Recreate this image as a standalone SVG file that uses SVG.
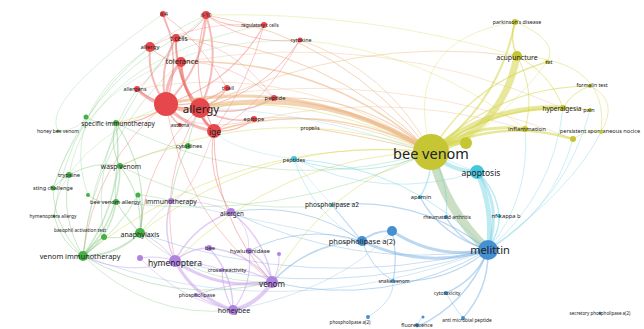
<svg xmlns="http://www.w3.org/2000/svg" width="644" height="329" viewBox="0 0 644 329">
<style>
.e path{fill:none;stroke-linecap:round}
.r{stroke:#ea6a66;stroke-opacity:.45}
.o{stroke:#eab07a;stroke-opacity:.55}
.g{stroke:#79c479;stroke-opacity:.4}
.p{stroke:#c49be8;stroke-opacity:.5}
.c{stroke:#6fd0e2;stroke-opacity:.45}
.b{stroke:#6aa8de;stroke-opacity:.45}
.y{stroke:#d6d64a;stroke-opacity:.55}
.s{stroke:#a9c99c;stroke-opacity:.6}
text{font-family:"Noto Sans","DejaVu Sans",sans-serif;fill:#222;text-anchor:middle;dominant-baseline:central}
.nr{fill:#e5474b}.ng{fill:#46b046}.np{fill:#b083e2}.nc{fill:#46c6de}.nb{fill:#4590d2}.ny{fill:#c6c634}
</style>
<g class="e" id="edges">
<!-- red -->
<path class="r" stroke-width="4" d="M166,104 Q182,113 200,108"/>
<path class="r" stroke-width="3" d="M166,104 Q185,127 214,131"/>
<path class="r" stroke-width="3" d="M200,108 Q202,122 214,131"/>
<path class="r" stroke-width="3" d="M181,62 Q165,80 166,104"/>
<path class="r" stroke-width="3" d="M181,62 Q181,89 200,108"/>
<path class="r" stroke-width="2" d="M176,38 Q158,69 166,104"/>
<path class="r" stroke-width="2" d="M176,38 Q174,78 200,108"/>
<path class="r" stroke-width="2" d="M166,104 Q204,68 206,15"/>
<path class="r" stroke-width="2" d="M200,108 Q222,63 206,15"/>
<path class="r" stroke-width="1.5" d="M166,104 Q182,58 163,14"/>
<path class="r" stroke-width="1" d="M163,14 Q165,29 176,38"/>
<path class="r" stroke-width="1" d="M176,38 Q196,32 206,15"/>
<path class="r" stroke-width="1.2" d="M166,104 Q231,84 264,25"/>
<path class="r" stroke-width="1" d="M206,15 Q233,32 264,25"/>
<path class="r" stroke-width="1" d="M200,108 Q264,94 300,40"/>
<path class="r" stroke-width="0.8" d="M206,15 Q248,46 300,40"/>
<path class="r" stroke-width="2" d="M150,47 Q147,79 166,104"/>
<path class="r" stroke-width="1" d="M150,47 Q163,61 181,62"/>
<path class="r" stroke-width="3" d="M137,89 Q149,102 166,104"/>
<path class="r" stroke-width="1.5" d="M137,89 Q165,111 200,108"/>
<path class="r" stroke-width="1.5" d="M166,104 Q200,108 227,88"/>
<path class="r" stroke-width="1.5" d="M200,108 Q218,103 227,88"/>
<path class="r" stroke-width="1.5" d="M200,108 Q239,118 274,98"/>
<path class="r" stroke-width="1.5" d="M214,131 Q236,133 254,119"/>
<path class="r" stroke-width="1.5" d="M200,108 Q225,124 254,119"/>
<path class="r" stroke-width="1.5" d="M166,104 Q169,117 180,125"/>
<path class="r" stroke-width="2" d="M181,62 Q184,103 214,131"/>
<path class="r" stroke-width="1.5" d="M176,38 Q176,92 214,131"/>
<path class="r" stroke-width="1.2" d="M206,15 Q187,75 214,131"/>
<path class="r" stroke-width="0.8" d="M166,104 Q183,214 272,282"/>
<path class="r" stroke-width="0.8" d="M200,108 Q157,180 175,261"/>
<path class="r" stroke-width="1" d="M214,131 Q213,218 272,282"/>
<path class="r" stroke-width="0.8" d="M200,108 Q145,159 140,233"/>
<path class="r" stroke-width="1" d="M214,131 Q206,175 231,212"/>
<path class="r" stroke-width="0.8" d="M166,104 Q94,163 83,256"/>
<path class="r" stroke-width="1.2" d="M116,123 Q145,124 166,104"/>
<path class="r" stroke-width="0.6" d="M137,89 Q160,70 176,38"/>
<path class="r" stroke-width="0.6" d="M181,62 Q230,60 274,98"/>
<path class="r" stroke-width="0.8" d="M163,14 Q200,40 227,88"/>
<path class="r" stroke-width="0.8" d="M264,25 Q250,80 214,131"/>
<path class="r" stroke-width="0.8" d="M300,40 Q260,110 214,131"/>
<path class="r" stroke-width="0.6" d="M150,47 Q200,20 264,25"/>
<path class="r" stroke-width="0.6" d="M137,89 Q190,140 254,119"/>
<path class="r" stroke-width="0.6" d="M176,38 Q230,40 274,98"/>
<path class="r" stroke-width="0.6" d="M214,131 Q190,200 171,201"/>
<!-- orange -->
<path class="o" stroke-width="5" d="M431,152 Q324,84 200,108"/>
<path class="o" stroke-width="3" d="M431,152 Q308,75 166,104"/>
<path class="o" stroke-width="1.5" d="M431,152 Q324,57 181,62"/>
<path class="o" stroke-width="1.5" d="M431,152 Q327,98 214,131"/>
<path class="o" stroke-width="1" d="M431,152 Q346,38 206,15"/>
<path class="o" stroke-width="1" d="M431,152 Q326,44 176,38"/>
<path class="o" stroke-width="1.2" d="M431,152 Q363,94 274,98"/>
<path class="o" stroke-width="0.8" d="M431,152 Q388,70 300,40"/>
<path class="o" stroke-width="1" d="M431,152 Q360,135 310,128"/>
<path class="o" stroke-width="0.8" d="M517,56 Q351,34 200,108"/>
<path class="o" stroke-width="0.6" d="M563,108 Q379,28 181,62"/>
<path class="o" stroke-width="0.6" d="M525,129 Q369,83 214,131"/>
<path class="o" stroke-width="0.6" d="M573,139 Q375,60 166,104"/>
<path class="o" stroke-width="0.8" d="M431,152 Q330,110 254,119"/>
<path class="o" stroke-width="0.6" d="M431,152 Q300,60 137,89"/>
<!-- yellow -->
<path class="y" stroke-width="7" d="M431,152 Q503,130 517,56"/>
<path class="y" stroke-width="2" d="M431,152 Q499,104 515,22"/>
<path class="y" stroke-width="1.5" d="M515,22 Q509,39 517,56"/>
<path class="y" stroke-width="5" d="M563,108 Q488,104 431,152"/>
<path class="y" stroke-width="3" d="M525,129 Q473,122 431,152"/>
<path class="y" stroke-width="2.5" d="M573,139 Q499,117 431,152"/>
<path class="y" stroke-width="1.5" d="M547,62 Q471,84 431,152"/>
<path class="y" stroke-width="1.2" d="M590,86 Q497,87 431,152"/>
<path class="y" stroke-width="1.5" d="M590,110 Q502,99 431,152"/>
<path class="y" stroke-width="1" d="M590,86 Q572,92 563,108"/>
<path class="y" stroke-width="1" d="M563,108 Q550,73 517,56"/>
<path class="y" stroke-width="1" d="M525,129 Q536,91 517,56"/>
<path class="y" stroke-width="0.8" d="M515,22 Q560,40 547,62"/>
<path class="y" stroke-width="0.8" d="M573,139 Q590,128 601,132"/>
<path class="y" stroke-width="0.8" d="M601,132 Q620,100 590,86"/>
<path class="y" stroke-width="0.8" d="M517,56 Q610,60 601,132"/>
<path class="y" stroke-width="5" d="M431,152 Q450,140 466,143"/>
<path class="y" stroke-width="0.8" d="M431,152 Q269,134 140,233"/>
<path class="y" stroke-width="0.8" d="M431,152 Q236,134 83,256"/>
<path class="y" stroke-width="0.8" d="M431,152 Q325,185 272,282"/>
<path class="y" stroke-width="0.8" d="M431,152 Q281,155 175,261"/>
<path class="y" stroke-width="0.8" d="M431,152 Q273,97 120,166"/>
<path class="y" stroke-width="0.8" d="M431,152 Q279,74 116,123"/>
<path class="y" stroke-width="0.6" d="M517,56 Q368,11 206,15"/>
<path class="y" stroke-width="0.6" d="M525,129 Q426,51 300,40"/>
<path class="y" stroke-width="0.6" d="M515,22 Q400,40 431,152"/>
<path class="y" stroke-width="0.6" d="M466,143 Q520,100 547,62"/>
<!-- cyan / blue -->
<path class="s" stroke-width="9" d="M431,152 Q445,210 488,250"/>
<path class="c" stroke-width="4" d="M431,152 Q450,171 477,172"/>
<path class="c" stroke-width="5" d="M488,250 Q494,209 477,172"/>
<path class="c" stroke-width="3" d="M488,250 Q503,204 477,172"/>
<path class="c" stroke-width="1.5" d="M499,216 Q497,190 477,172"/>
<path class="c" stroke-width="1.5" d="M488,250 Q500,230 499,216"/>
<path class="b" stroke-width="1.5" d="M446,217 Q460,242 488,250"/>
<path class="b" stroke-width="1.5" d="M420,197 Q440,235 488,250"/>
<path class="b" stroke-width="3" d="M362,241 Q423,270 488,250"/>
<path class="b" stroke-width="3" d="M392,231 Q436,260 488,250"/>
<path class="b" stroke-width="2" d="M362,241 Q375,230 392,231"/>
<path class="b" stroke-width="1.5" d="M446,293 Q476,280 488,250"/>
<path class="b" stroke-width="1.5" d="M463,318 Q489,289 488,250"/>
<path class="b" stroke-width="1.5" d="M417,327 Q468,303 488,250"/>
<path class="b" stroke-width="1.2" d="M393,281 Q447,284 488,250"/>
<path class="c" stroke-width="0.8" d="M488,250 Q553,212 573,139"/>
<path class="c" stroke-width="0.8" d="M488,250 Q531,197 525,129"/>
<path class="c" stroke-width="0.8" d="M488,250 Q554,194 563,108"/>
<path class="c" stroke-width="0.8" d="M488,250 Q567,200 590,110"/>
<path class="c" stroke-width="0.8" d="M488,250 Q572,190 601,132"/>
<path class="c" stroke-width="1" d="M488,250 Q409,166 294,159"/>
<path class="b" stroke-width="1.2" d="M488,250 Q419,196 332,205"/>
<path class="b" stroke-width="1" d="M272,282 Q386,309 488,250"/>
<path class="b" stroke-width="1.5" d="M362,241 Q309,243 272,282"/>
<path class="b" stroke-width="1" d="M362,241 Q370,267 393,281"/>
<path class="b" stroke-width="1.2" d="M392,231 Q398,256 393,281"/>
<path class="b" stroke-width="1.2" d="M362,241 Q340,215 332,205"/>
<path class="b" stroke-width="1" d="M362,241 Q303,223 249,251"/>
<path class="b" stroke-width="1" d="M362,241 Q302,200 231,212"/>
<path class="c" stroke-width="1" d="M294,159 Q364,183 431,152"/>
<path class="c" stroke-width="1.5" d="M420,197 Q432,178 431,152"/>
<path class="c" stroke-width="1.2" d="M446,217 Q450,185 431,152"/>
<path class="b" stroke-width="0.8" d="M446,293 Q456,310 463,318"/>
<path class="b" stroke-width="0.8" d="M417,327 Q420,318 423,317"/>
<path class="b" stroke-width="0.8" d="M368,317 Q395,300 393,281"/>
<path class="b" stroke-width="0.8" d="M140,233 Q311,294 488,250"/>
<path class="b" stroke-width="0.8" d="M175,261 Q333,302 488,250"/>
<path class="b" stroke-width="0.8" d="M231,212 Q354,270 488,250"/>
<path class="b" stroke-width="0.6" d="M83,256 Q280,330 488,250"/>
<path class="c" stroke-width="0.8" d="M294,159 Q312,214 362,241"/>
<path class="c" stroke-width="0.8" d="M294,159 Q383,202 477,172"/>
<path class="c" stroke-width="0.6" d="M294,159 Q230,150 214,131"/>
<path class="c" stroke-width="0.6" d="M477,172 Q330,110 200,108"/>
<path class="c" stroke-width="0.6" d="M332,205 Q300,170 294,159"/>
<path class="b" stroke-width="0.6" d="M392,231 Q340,290 233,310"/>
<path class="b" stroke-width="0.6" d="M362,241 Q250,220 171,201"/>
<!-- purple -->
<path class="p" stroke-width="4" d="M233,310 Q258,304 272,282"/>
<path class="p" stroke-width="3" d="M175,261 Q194,297 233,310"/>
<path class="p" stroke-width="3" d="M175,261 Q219,291 272,282"/>
<path class="p" stroke-width="1.5" d="M175,261 Q190,248 209,248"/>
<path class="p" stroke-width="1.2" d="M175,261 Q200,262 222,270"/>
<path class="p" stroke-width="1.5" d="M272,282 Q267,262 249,251"/>
<path class="p" stroke-width="1.5" d="M272,282 Q266,239 231,212"/>
<path class="p" stroke-width="1.5" d="M272,282 Q248,252 209,248"/>
<path class="p" stroke-width="1.2" d="M272,282 Q245,266 222,270"/>
<path class="p" stroke-width="1" d="M272,282 Q230,282 196,295"/>
<path class="p" stroke-width="1.2" d="M233,310 Q210,304 196,295"/>
<path class="p" stroke-width="1.5" d="M233,310 Q233,274 209,248"/>
<path class="p" stroke-width="1.2" d="M233,310 Q253,284 249,251"/>
<path class="p" stroke-width="1.2" d="M233,310 Q222,290 222,270"/>
<path class="p" stroke-width="1.5" d="M171,201 Q161,232 175,261"/>
<path class="p" stroke-width="1.5" d="M231,212 Q193,226 175,261"/>
<path class="p" stroke-width="1" d="M140,258 Q158,255 175,261"/>
<path class="p" stroke-width="1" d="M279,254 Q280,270 272,282"/>
<path class="p" stroke-width="1" d="M83,256 Q128,277 175,261"/>
<path class="p" stroke-width="1" d="M140,233 Q160,240 175,261"/>
<path class="p" stroke-width="0.8" d="M171,201 Q210,200 231,212"/>
<path class="p" stroke-width="0.8" d="M231,212 Q250,225 249,251"/>
<path class="p" stroke-width="0.8" d="M140,258 Q180,300 233,310"/>
<!-- green -->
<path class="g" stroke-width="2" d="M83,256 Q116,256 140,233"/>
<path class="g" stroke-width="1.2" d="M83,256 Q96,240 104,237"/>
<path class="g" stroke-width="1.5" d="M83,256 Q111,236 116,202"/>
<path class="g" stroke-width="1.5" d="M83,256 Q120,218 120,166"/>
<path class="g" stroke-width="1.5" d="M83,256 Q126,196 116,123"/>
<path class="g" stroke-width="1" d="M53,188 Q54,228 83,256"/>
<path class="g" stroke-width="1" d="M69,175 Q60,218 83,256"/>
<path class="g" stroke-width="1" d="M54,216 Q62,245 83,256"/>
<path class="g" stroke-width="1" d="M83,256 Q120,230 138,195"/>
<path class="g" stroke-width="1.2" d="M140,233 Q143,196 120,166"/>
<path class="g" stroke-width="1.2" d="M140,233 Q128,220 116,202"/>
<path class="g" stroke-width="1.2" d="M140,233 Q145,210 138,195"/>
<path class="g" stroke-width="1.2" d="M140,233 Q150,173 116,123"/>
<path class="g" stroke-width="1.2" d="M116,123 Q109,145 120,166"/>
<path class="g" stroke-width="1" d="M86,117 Q100,126 116,123"/>
<path class="g" stroke-width="1" d="M120,166 Q113,183 116,202"/>
<path class="g" stroke-width="1" d="M69,175 Q95,160 120,166"/>
<path class="g" stroke-width="1" d="M53,188 Q60,180 69,175"/>
<path class="g" stroke-width="1" d="M88,195 Q100,205 116,202"/>
<path class="g" stroke-width="1" d="M104,237 Q120,240 140,233"/>
<path class="g" stroke-width="0.8" d="M150,47 Q68,112 54,216"/>
<path class="g" stroke-width="0.8" d="M181,62 Q93,139 83,256"/>
<path class="g" stroke-width="0.8" d="M206,15 Q96,111 83,256"/>
<path class="g" stroke-width="0.8" d="M176,38 Q85,88 53,188"/>
<path class="g" stroke-width="0.8" d="M137,89 Q91,156 104,237"/>
<path class="g" stroke-width="0.7" d="M163,14 Q40,100 58,131"/>
<path class="g" stroke-width="0.7" d="M264,25 Q90,60 69,175"/>
<path class="g" stroke-width="0.7" d="M206,15 Q50,90 88,195"/>
<path class="g" stroke-width="0.6" d="M300,40 Q100,40 53,188"/>
<path class="g" stroke-width="0.6" d="M166,104 Q60,150 54,216"/>
<path class="g" stroke-width="1" d="M83,256 Q173,307 272,282"/>
<path class="g" stroke-width="0.8" d="M140,233 Q196,284 272,282"/>
<path class="g" stroke-width="0.8" d="M83,256 Q150,320 233,310"/>
<path class="g" stroke-width="0.8" d="M116,123 Q268,200 431,152"/>
<path class="g" stroke-width="0.8" d="M120,166 Q220,217 332,205"/>
<path class="g" stroke-width="0.8" d="M116,202 Q281,224 431,152"/>
<path class="g" stroke-width="1" d="M188,146 Q175,170 171,201"/>
<path class="g" stroke-width="1" d="M188,146 Q190,130 200,108"/>
<path class="g" stroke-width="0.8" d="M188,146 Q150,150 120,166"/>
<path class="g" stroke-width="0.8" d="M171,201 Q150,195 138,195"/>
<path class="g" stroke-width="0.8" d="M171,201 Q150,220 140,233"/>
<path class="g" stroke-width="0.6" d="M58,131 Q80,130 86,117"/>
</g>
<g id="n-allergy-a"><circle class="nr" cx="166" cy="104" r="12"/></g>
<g id="n-allergy"><circle class="nr" cx="200" cy="108" r="10"/><text x="201" y="108" font-size="11.5">allergy</text></g>
<g id="n-ige"><circle class="nr" cx="214" cy="131" r="7"/><text x="215" y="131" font-size="8.5">ige</text></g>
<g id="n-tolerance"><circle class="nr" cx="181" cy="62" r="5"/><text x="182" y="61" font-size="7.5">tolerance</text></g>
<g id="n-tcells"><circle class="nr" cx="176" cy="38" r="4"/><text x="179" y="38" font-size="6.5">t cells</text></g>
<g id="n-il4"><circle class="nr" cx="163" cy="14" r="3"/><text x="164" y="14" font-size="5.5">il-4</text></g>
<g id="n-il10"><circle class="nr" cx="206" cy="15" r="4"/><text x="206" y="15" font-size="5.5">il-10</text></g>
<g id="n-regt"><circle class="nr" cx="264" cy="25" r="3"/><text x="260" y="25" font-size="4.8">regulatory t cells</text></g>
<g id="n-cytokine"><circle class="nr" cx="300" cy="40" r="2.5"/><text x="301" y="40" font-size="5.3">cytokine</text></g>
<g id="n-allergy-s"><circle class="nr" cx="150" cy="47" r="5"/><text x="150" y="47" font-size="6">allergy</text></g>
<g id="n-allergens"><circle class="nr" cx="137" cy="89" r="3"/><text x="135" y="89" font-size="5.3">allergens</text></g>
<g id="n-tcell"><circle class="nr" cx="227" cy="88" r="3"/><text x="228" y="88" font-size="5.5">t cell</text></g>
<g id="n-peptide"><circle class="nr" cx="274" cy="98" r="3"/><text x="275" y="98" font-size="5.8">peptide</text></g>
<g id="n-asthma"><circle class="nr" cx="180" cy="125" r="2"/><text x="180" y="125" font-size="5.3">asthma</text></g>
<g id="n-epitope"><circle class="nr" cx="254" cy="119" r="3"/><text x="254" y="119" font-size="5.8">epitope</text></g>
<g id="n-propolis"><circle fill="#e9a06a" cx="312" cy="128" r="1.5"/><text x="310" y="128" font-size="5">propolis</text></g>
<g id="n-cytokines"><circle class="ng" cx="188" cy="146" r="3"/><text x="189" y="146" font-size="6">cytokines</text></g>
<g id="n-specimm"><circle class="ng" cx="116" cy="123" r="3"/><text x="118" y="123" font-size="6.5">specific immunotherapy</text></g>
<g id="n-g1"><circle class="ng" cx="86" cy="117" r="2.5"/></g>
<g id="n-hbv"><circle class="ng" cx="58" cy="131" r="1.5"/><text x="58" y="131" font-size="5">honey bee venom</text></g>
<g id="n-wasp"><circle class="ng" cx="120" cy="166" r="3"/><text x="121" y="166" font-size="6.8">wasp venom</text></g>
<g id="n-trypsine"><circle class="ng" cx="69" cy="175" r="3"/><text x="69" y="175" font-size="5.8">trypsine</text></g>
<g id="n-sting"><circle class="ng" cx="53" cy="188" r="2.5"/><text x="53" y="188" font-size="5.6">sting challenge</text></g>
<g id="n-g2"><circle class="ng" cx="88" cy="195" r="2"/></g>
<g id="n-g3"><circle class="ng" cx="138" cy="195" r="2.5"/></g>
<g id="n-bva"><circle class="ng" cx="116" cy="202" r="3"/><text x="115" y="202" font-size="5.8">bee venom allergy</text></g>
<g id="n-hymall"><circle class="ng" cx="54" cy="216" r="1.5"/><text x="53" y="216" font-size="4.8">hymenoptera allergy</text></g>
<g id="n-bat"><circle class="ng" cx="104" cy="237" r="3"/><text x="80" y="230" font-size="4.8">basophil activation test</text></g>
<g id="n-anaph"><circle class="ng" cx="140" cy="233" r="5"/><text x="140" y="234" font-size="7">anaphylaxis</text></g>
<g id="n-vit"><circle class="ng" cx="83" cy="256" r="5"/><text x="80" y="256" font-size="7.3">venom immunotherapy</text></g>
<g id="n-immuno"><circle class="np" cx="171" cy="201" r="3"/><text x="171" y="201" font-size="6.8">immunotherapy</text></g>
<g id="n-allergen"><circle class="np" cx="231" cy="212" r="4"/><text x="232" y="213" font-size="6.2">allergen</text></g>
<g id="n-p1"><circle class="np" cx="140" cy="258" r="3"/></g>
<g id="n-hymen"><circle class="np" cx="175" cy="261" r="6"/><text x="175" y="262" font-size="8.5">hymenoptera</text></g>
<g id="n-bee"><circle class="np" cx="209" cy="248" r="3"/><text x="210" y="248" font-size="6">bee</text></g>
<g id="n-hyal"><circle class="np" cx="249" cy="251" r="3"/><text x="250" y="251" font-size="6">hyaluronidase</text></g>
<g id="n-p2"><circle class="np" cx="279" cy="254" r="2"/></g>
<g id="n-cross"><circle class="np" cx="222" cy="270" r="2"/><text x="227" y="270" font-size="5.5">cross-reactivity</text></g>
<g id="n-venom"><circle class="np" cx="272" cy="282" r="6"/><text x="272" y="283" font-size="8">venom</text></g>
<g id="n-phospholipase"><circle class="np" cx="196" cy="295" r="2"/><text x="197" y="295" font-size="5.3">phospholipase</text></g>
<g id="n-honeybee"><circle class="np" cx="233" cy="310" r="5"/><text x="234" y="310" font-size="7">honeybee</text></g>
<g id="n-peptides"><circle class="nc" cx="294" cy="159" r="3"/><text x="294" y="160" font-size="5.5">peptides</text></g>
<g id="n-pla2"><circle class="nc" cx="332" cy="205" r="2"/><text x="332" y="204" font-size="6.5">phospholipase a2</text></g>
<g id="n-apamin"><circle class="nc" cx="420" cy="197" r="2"/><text x="421" y="197" font-size="5.8">apamin</text></g>
<g id="n-ra"><circle class="nb" cx="446" cy="217" r="2"/><text x="447" y="217" font-size="5">rheumatoid arthritis</text></g>
<g id="n-pla2b"><circle class="nb" cx="362" cy="241" r="5"/><text x="362" y="241" font-size="7.5">phospholipase a(2)</text></g>
<g id="n-b1"><circle class="nb" cx="392" cy="231" r="5"/></g>
<g id="n-melittin"><circle class="nb" cx="488" cy="250" r="10"/><text x="490" y="249" font-size="11">melittin</text></g>
<g id="n-apoptosis"><circle class="nc" cx="477" cy="172" r="7"/><text x="481" y="172" font-size="8.5">apoptosis</text></g>
<g id="n-nfkb"><circle class="nc" cx="499" cy="216" r="2"/><text x="506" y="216" font-size="5.8">nf-kappa b</text></g>
<g id="n-snake"><circle class="nb" cx="393" cy="281" r="2"/><text x="394" y="281" font-size="5">snake venom</text></g>
<g id="n-cytotox"><circle class="nb" cx="446" cy="293" r="2"/><text x="447" y="293" font-size="5">cytotoxicity</text></g>
<g id="n-pla2c"><circle class="nb" cx="368" cy="317" r="2"/><text x="350" y="322" font-size="4.6">phospholipase a(2)</text></g>
<g id="n-b2"><circle class="nb" cx="423" cy="317" r="1.5"/></g>
<g id="n-fluor"><circle class="nb" cx="417" cy="325" r="2"/><text x="417" y="324.5" font-size="5.3">fluorescence</text></g>
<g id="n-amp"><circle class="nb" cx="463" cy="318" r="2"/><text x="467" y="320" font-size="4.8">anti microbial peptide</text></g>
<g id="n-spla2"><circle class="nb" cx="600" cy="313" r="1.5"/><text x="600" y="313" font-size="4.5">secretory phospholipase a(2)</text></g>
<g id="n-beevenom"><circle class="ny" cx="431" cy="152" r="18"/><text x="431" y="153" font-size="14.5">bee venom</text></g>
<g id="n-y1"><circle class="ny" cx="466" cy="143" r="6"/></g>
<g id="n-parkinson"><circle class="ny" cx="515" cy="22" r="3"/><text x="517" y="22" font-size="5.3">parkinson's disease</text></g>
<g id="n-acupuncture"><circle class="ny" cx="517" cy="56" r="5"/><text x="517" y="57" font-size="7">acupuncture</text></g>
<g id="n-rat"><circle class="ny" cx="547" cy="62" r="2"/><text x="549" y="62" font-size="5.5">rat</text></g>
<g id="n-formalin"><circle class="ny" cx="590" cy="86" r="2"/><text x="592" y="85" font-size="5.2">formalin test</text></g>
<g id="n-hyper"><circle class="ny" cx="563" cy="108" r="3"/><text x="562" y="108" font-size="6.5">hyperalgesia</text></g>
<g id="n-pain"><circle class="ny" cx="590" cy="110" r="2"/><text x="589" y="110" font-size="5.5">pain</text></g>
<g id="n-inflammation"><circle class="ny" cx="525" cy="129" r="3"/><text x="527" y="129" font-size="6">inflammation</text></g>
<g id="n-psn"><circle class="ny" cx="573" cy="139" r="3"/><text x="600" y="131" font-size="5.6">persistent spontaneous nocice</text></g>
<g id="n-y2"><circle class="ny" cx="601" cy="132" r="2"/></g>
</svg>
